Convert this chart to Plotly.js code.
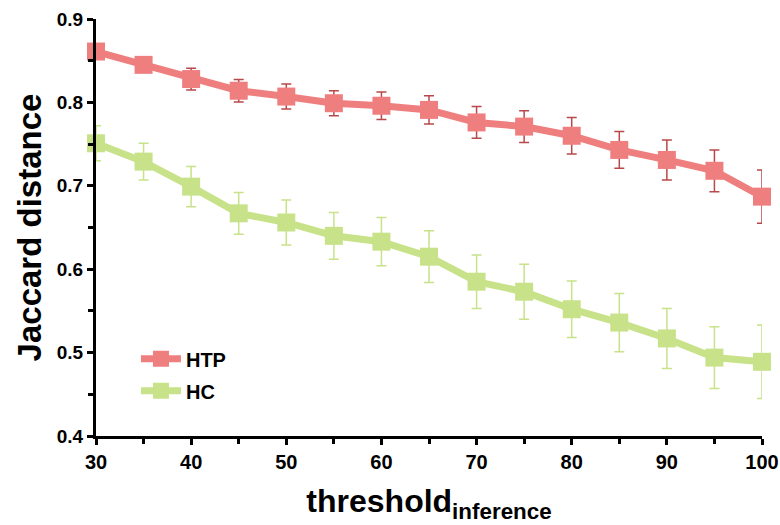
<!DOCTYPE html>
<html><head><meta charset="utf-8">
<script src="https://cdn.plot.ly/plotly-3.0.1.min.js"></script>
<style>html,body{margin:0;padding:0;background:#fff}#chart{width:780px;height:525px}</style>
</head><body><div id="chart"></div>
<script>
const thresholds = [30,35,40,45,50,55,60,65,70,75,80,85,90,95,100];
const htp = [0.861,0.845,0.828,0.814,0.807,0.799,0.796,0.791,0.776,0.771,0.760,0.743,0.731,0.718,0.687];
const htpErr = [0.004,0.005,0.013,0.0135,0.015,0.015,0.0165,0.017,0.019,0.019,0.022,0.022,0.024,0.025,0.032];
const hc = [0.751,0.729,0.699,0.667,0.656,0.640,0.633,0.615,0.585,0.573,0.552,0.536,0.517,0.494,0.489];
const hcErr = [0.021,0.022,0.024,0.025,0.027,0.028,0.029,0.031,0.032,0.033,0.034,0.035,0.036,0.037,0.044];
const seriesNames = ['HTP','HC'];
const xTicks = [30,40,50,60,70,80,90,100];
const yTicks = [0.4,0.5,0.6,0.7,0.8,0.9];

const font = 'Liberation Sans, Arial, sans-serif';
function trace(name, y, err, color, errColor, group){
  return {
    x: thresholds, y: y, name: name, type: 'scatter', mode: 'lines+markers',
    legendgroup: group,
    line: {color: color, width: 7},
    marker: {symbol: 'square', size: 18, color: color},
    error_y: {type: 'data', array: err, visible: true, color: errColor, thickness: 1.5, width: 5},
    cliponaxis: false
  };
}
const data = [
  trace(seriesNames[0], htp, htpErr, '#ef7f7f', '#b8494b', 'a'),
  trace(seriesNames[1], hc, hcErr, '#c8e28a', '#c8e28a', 'b')
];
const layout = {
  width: 780, height: 525,
  margin: {l: 96, r: 18, t: 19, b: 89},
  paper_bgcolor: '#fff', plot_bgcolor: '#fff',
  showlegend: true,
  legend: {x: 0.06, y: 0.232, xanchor: 'left', yanchor: 'top', bgcolor: 'rgba(0,0,0,0)',
    font: {family: font, size: 20, color: '#000', weight: 'bold'}, tracegroupgap: 3, itemwidth: 40},
  xaxis: {
    range: [30, 100], tickvals: xTicks, ticks: 'outside', ticklen: 6, tickwidth: 3, tickcolor: '#000',
    showline: true, linecolor: '#000', linewidth: 3, showgrid: false, zeroline: false,
    minor: {dtick: 5, ticks: 'outside', ticklen: 5, tickwidth: 3, tickcolor: '#000', showgrid: false},
    tickfont: {family: font, size: 20, color: '#000', weight: 'bold'},
    title: {text: 'threshold<sub>inference</sub>', font: {family: font, size: 32, color: '#000', weight: 'bold'}, standoff: 18}
  },
  yaxis: {
    range: [0.4, 0.9], tickvals: yTicks, tickformat: '.1f', ticks: 'outside', ticklen: 6, tickwidth: 3, tickcolor: '#000',
    showline: true, linecolor: '#000', linewidth: 3, showgrid: false, zeroline: false,
    minor: {dtick: 0.05, ticks: 'outside', ticklen: 5, tickwidth: 3, tickcolor: '#000', showgrid: false},
    tickfont: {family: font, size: 19, color: '#000', weight: 'bold'},
    title: {text: 'Jaccard distance', font: {family: font, size: 33, color: '#000', weight: 'bold'}, standoff: 6}
  }
};
Plotly.newPlot('chart', data, layout, {displayModeBar: false, staticPlot: true});
</script>
</body></html>
